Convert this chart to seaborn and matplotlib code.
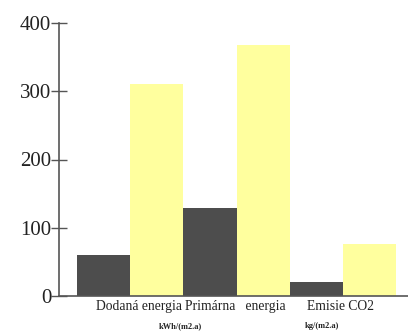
import matplotlib
matplotlib.use("Agg")
import matplotlib.pyplot as plt
import pandas as pd
import seaborn as sns

# data
kategorie = ["Dodaná energia", "Primárna   energia", "Emisie CO2"]
hodnoty_tmave = [60, 129, 20]
hodnoty_zlte = [310, 368, 76]
serie = ["A", "B"]
jednotky = ["kWh/(m2.a)", "kg/(m2.a)"]
yticky = [0, 100, 200, 300, 400]

df = pd.DataFrame({
    "kategoria": kategorie * 2,
    "hodnota": hodnoty_tmave + hodnoty_zlte,
    "seria": [serie[0]] * 3 + [serie[1]] * 3,
})

sns.set_style("white")
plt.rcParams["font.family"] = ["Liberation Serif", "DejaVu Serif"]

fig = plt.figure(figsize=(4.08, 3.34), dpi=100)
ax = fig.add_axes([59 / 408, 38 / 334, 349 / 408, 273 / 334])

sns.barplot(data=df, x="kategoria", y="hodnota", hue="seria",
            palette=["#4d4d4d", "#ffff9e"], width=1.0, dodge=True,
            saturation=1, legend=False, linewidth=0, ax=ax)

ax.set_xlim(-0.667, 2.61)
ax.set_ylim(0, 400)
ax.set_yticks(yticky)
ax.set_yticklabels([str(v) for v in yticky], fontsize=15, color="#222222")
ax.set_xticks([0.08, 0.99, 1.98])
ax.set_xticklabels(kategorie, fontsize=9.8, color="#222222")
ax.tick_params(axis="x", length=0, pad=3)
ax.tick_params(axis="y", left=True, direction="inout", length=11, width=1,
               color="#555555", pad=0)
ax.set_xlabel("")
ax.set_ylabel("")

for s in ["top", "right"]:
    ax.spines[s].set_visible(False)
for s in ["left", "bottom"]:
    ax.spines[s].set_color("#555555")
    ax.spines[s].set_linewidth(1.2)

# jednotky pod popismi
for x, txt in zip([0.47, 1.8], jednotky):
    ax.text(x, -0.11, txt, transform=ax.get_xaxis_transform(),
            ha="center", va="center", fontsize=6, fontweight="bold",
            color="#222222")

fig.savefig("out.png", dpi=100)
